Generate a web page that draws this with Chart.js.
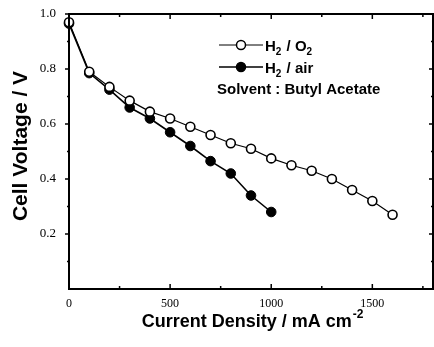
<!DOCTYPE html>
<html>
<head>
<meta charset="utf-8">
<script src="https://cdn.jsdelivr.net/npm/chart.js@4"></script>
<style>
  html, body { margin: 0; padding: 0; background: #fff; }
  #wrap { width: 434px; height: 347px; }
</style>
</head>
<body>
<div id="wrap"><canvas id="myChart" width="434" height="347"></canvas></div>
<script>
// data
const o2Current = [0, 100, 200, 300, 400, 500, 600, 700, 800, 900, 1000, 1100, 1200, 1300, 1400, 1500, 1600];
const o2Voltage = [0.97, 0.79, 0.735, 0.685, 0.645, 0.62, 0.59, 0.56, 0.53, 0.51, 0.475, 0.45, 0.43, 0.40, 0.36, 0.32, 0.27];
const airCurrent = [0, 100, 200, 300, 400, 500, 600, 700, 800, 900, 1000];
const airVoltage = [0.965, 0.785, 0.725, 0.66, 0.62, 0.57, 0.52, 0.465, 0.42, 0.34, 0.28];

const xTicks = [0, 500, 1000, 1500];
const xMinor = [250, 750, 1250, 1750];
const yTicks = [0.2, 0.4, 0.6, 0.8, 1.0];
const yMinor = [0.1, 0.3, 0.5, 0.7, 0.9];

const seriesNames = ['H2 / O2', 'H2 / air'];

const toPoints = (xs, ys) => xs.map((x, i) => ({ x: x, y: ys[i] }));

// frame, ticks, titles and legend
const decor = {
    id: 'decor',
    afterDraw(chart) {
        const c = chart.ctx;
        const a = chart.chartArea;
        const sx = chart.scales.x, sy = chart.scales.y;
        c.save();
        c.strokeStyle = '#000';
        c.lineWidth = 2;
        c.strokeRect(a.left, a.top, a.right - a.left, a.bottom - a.top);

        c.lineWidth = 1.5;
        c.beginPath();
        const tick = (v, len) => {
            const px = sx.getPixelForValue(v);
            c.moveTo(px, a.bottom); c.lineTo(px, a.bottom - len);
            c.moveTo(px, a.top); c.lineTo(px, a.top + len);
        };
        xTicks.forEach(v => tick(v, 5));
        xMinor.forEach(v => tick(v, 3));
        const ytick = (v, len) => {
            const py = sy.getPixelForValue(v);
            c.moveTo(a.left, py); c.lineTo(a.left - len, py);
            c.moveTo(a.right, py); c.lineTo(a.right - len, py);
        };
        yTicks.forEach(v => ytick(v, 4));
        yMinor.forEach(v => ytick(v, 2));
        c.stroke();

        c.fillStyle = '#000';
        // y title
        c.save();
        c.translate(21, 146);
        c.rotate(-Math.PI / 2);
        c.font = 'bold 21px "Liberation Sans", Arial, sans-serif';
        c.textAlign = 'center';
        c.textBaseline = 'middle';
        c.fillText('Cell Voltage / V', 0, 0);
        c.restore();

        // x title with superscript
        c.font = 'bold 18px "Liberation Sans", Arial, sans-serif';
        c.textBaseline = 'alphabetic';
        c.textAlign = 'left';
        const main = 'Current Density / mA cm';
        const w1 = c.measureText(main).width;
        c.font = 'bold 12px "Liberation Sans", Arial, sans-serif';
        const w2 = c.measureText('-2').width;
        let x0 = 252 - (w1 + w2) / 2;
        c.font = 'bold 18px "Liberation Sans", Arial, sans-serif';
        c.fillText(main, x0, 327);
        c.font = 'bold 12px "Liberation Sans", Arial, sans-serif';
        c.fillText('-2', x0 + w1 + 1, 318);

        // legend
        const rows = [
            { y: 45, fill: '#fff', lw: 1 },
            { y: 67, fill: '#000', lw: 1.5 }
        ];
        const big = 'bold 15px "Liberation Sans", Arial, sans-serif';
        const small = 'bold 10px "Liberation Sans", Arial, sans-serif';
        rows.forEach((r, i) => {
            c.strokeStyle = '#000';
            c.lineWidth = r.lw;
            c.beginPath();
            c.moveTo(219, r.y); c.lineTo(263, r.y);
            c.stroke();
            c.beginPath();
            c.arc(241, r.y, 4.5, 0, Math.PI * 2);
            c.fillStyle = r.fill;
            c.fill();
            c.lineWidth = 1.5;
            c.stroke();
            c.fillStyle = '#000';
            const parts = seriesNames[i].split('2');
            let tx = 265;
            const by = r.y + 6;
            const pieces = [];
            parts.forEach((p, k) => {
                if (p) pieces.push({ t: p, sub: false });
                if (k < parts.length - 1) pieces.push({ t: '2', sub: true });
            });
            pieces.forEach(p => {
                c.font = p.sub ? small : big;
                c.fillText(p.t, tx, p.sub ? by + 4 : by);
                tx += c.measureText(p.t).width + (p.sub ? 1 : 0);
            });
        });
        c.font = big;
        c.fillText('Solvent : Butyl Acetate', 217, 94);
        c.restore();
    }
};

const ctx = document.querySelector('#myChart');

new Chart(ctx, {
    type: 'line',
    data: {
        datasets: [
            {
                label: seriesNames[0],
                data: toPoints(o2Current, o2Voltage),
                borderColor: '#000',
                borderWidth: 1.2,
                backgroundColor: '#fff',
                pointBackgroundColor: '#fff',
                pointBorderColor: '#000',
                pointBorderWidth: 1.6,
                pointRadius: 4.5,
                tension: 0,
                clip: false
            },
            {
                label: seriesNames[1],
                data: toPoints(airCurrent, airVoltage),
                borderColor: '#000',
                borderWidth: 1.6,
                backgroundColor: '#000',
                pointBackgroundColor: '#000',
                pointBorderColor: '#000',
                pointBorderWidth: 1,
                pointRadius: 4.8,
                tension: 0,
                clip: false
            }
        ]
    },
    options: {
        responsive: false,
        animation: false,
        layout: { autoPadding: false, padding: { top: 14, right: 1, left: 0, bottom: 0 } },
        plugins: {
            legend: { display: false },
            tooltip: { enabled: false }
        },
        scales: {
            x: {
                type: 'linear',
                min: 0,
                max: 1800,
                afterBuildTicks: s => { s.ticks = xTicks.map(v => ({ value: v })); },
                afterFit: s => { s.height = 58; s.paddingLeft = 0; s.paddingRight = 0; },
                grid: { display: false, drawTicks: false },
                border: { display: false },
                ticks: {
                    color: '#000',
                    padding: 8,
                    maxRotation: 0,
                    font: { family: '"Liberation Serif", "Times New Roman", serif', size: 12 },
                    callback: v => String(v)
                }
            },
            y: {
                type: 'linear',
                min: 0,
                max: 1.0,
                afterBuildTicks: s => { s.ticks = yTicks.map(v => ({ value: v })); },
                afterFit: s => { s.width = 69; s.paddingTop = 0; s.paddingBottom = 0; },
                grid: { display: false, drawTicks: false },
                border: { display: false },
                ticks: {
                    color: '#000',
                    padding: 13,
                    font: { family: '"Liberation Serif", "Times New Roman", serif', size: 13 },
                    callback: v => v.toFixed(1)
                }
            }
        }
    },
    plugins: [decor]
});
</script>
</body>
</html>
